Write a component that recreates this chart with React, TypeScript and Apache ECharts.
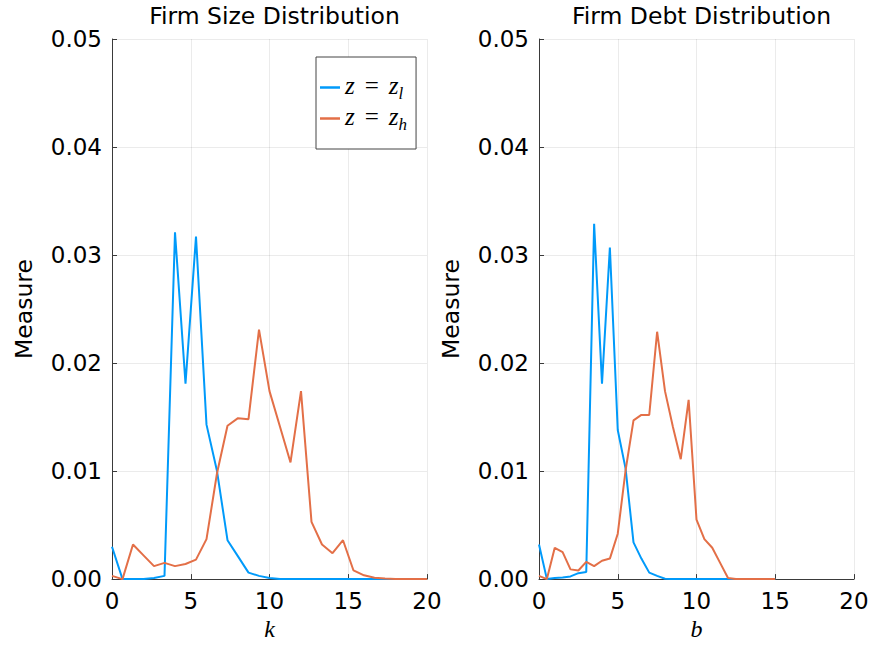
import React, { useEffect, useRef } from "react";
import * as echarts from "echarts";

// Firm Size Distribution (k grid)
const kGrid = [0, 0.667, 1.333, 2, 2.667, 3.333, 4, 4.667, 5.333, 6, 6.667, 7.333, 8, 8.667, 9.333, 10, 10.667, 11.333, 12, 12.667, 13.333, 14, 14.667, 15.333, 16, 16.667, 17.333, 18, 18.667, 19.333, 20];
const sizeLow = [0.003, 0, 0, 0, 0.0001, 0.0003, 0.0321, 0.0181, 0.0317, 0.0143, 0.0100, 0.0036, 0.0021, 0.0006, 0.0003, 0.0001, 0, 0, 0, 0, 0, 0, 0, 0, 0, 0, 0, 0, 0, 0, 0];
const sizeHigh = [0.0003, 0, 0.0032, 0.0022, 0.0012, 0.0015, 0.0012, 0.0014, 0.0018, 0.0037, 0.0098, 0.0142, 0.0149, 0.0148, 0.0231, 0.0174, 0.0141, 0.0108, 0.0174, 0.0053, 0.0032, 0.0024, 0.0036, 0.0008, 0.00035, 0.00013, 0.00005, 0.00002, 0.00001, 0, 0];

// Firm Debt Distribution (b grid)
const bGrid = [0, 0.5, 1, 1.5, 2, 2.5, 3, 3.5, 4, 4.5, 5, 5.5, 6, 6.5, 7, 7.5, 8, 8.5, 9, 9.5, 10, 10.5, 11, 11.5, 12, 12.5, 13, 13.5, 14, 14.5, 15];
const debtLow = [0.0032, 0, 0.0001, 0.00015, 0.00025, 0.00055, 0.00065, 0.0329, 0.0181, 0.0307, 0.0138, 0.0102, 0.0034, 0.0019, 0.0006, 0.0003, 0.00003, 0, 0, 0, 0, 0, 0, 0, 0, 0, 0, 0, 0, 0, 0];
const debtHigh = [0.0003, 0, 0.0029, 0.0025, 0.0009, 0.0008, 0.0016, 0.0012, 0.0017, 0.0019, 0.0042, 0.0101, 0.0147, 0.0152, 0.0152, 0.0229, 0.0174, 0.0141, 0.0111, 0.0166, 0.0055, 0.0037, 0.0029, 0.0015, 0.0001, 0, 0, 0, 0, 0, 0];

const titles = ["Firm Size Distribution", "Firm Debt Distribution"];
const xNames = ["k", "b"];
const seriesNames = ["zl", "zh"];
const xTicks = { min: 0, max: 20, interval: 5 };
const yTicks = { min: 0, max: 0.05, interval: 0.01 };

const BLUE = "#009AFA";
const ORANGE = "#E36F47";
const SANS = "DejaVu Sans";
const SERIF = "Liberation Serif";

const pairs = (xs: number[], ys: number[]) => xs.map((x, i) => [x, ys[i]]);

export default function App() {
  const ref = useRef<HTMLDivElement>(null);
  useEffect(() => {
    document.body.style.margin = "0";
    if (!ref.current) return;
    const chart = echarts.init(ref.current, null, { renderer: "svg" });
    const grids = [
      { left: 112, top: 39, width: 315, height: 544 },
      { left: 539, top: 39, width: 315, height: 544 },
    ];
    const axisColor = "#3a3a3a";
    const xAxes = grids.map((_, i) => ({
      type: "value",
      gridIndex: i,
      min: xTicks.min,
      max: xTicks.max,
      interval: xTicks.interval,
      name: xNames[i],
      nameLocation: "middle",
      nameGap: 34,
      nameTextStyle: { fontFamily: SERIF, fontStyle: "italic", fontSize: 24, color: "#000" },
      axisLine: { show: true, lineStyle: { color: axisColor, width: 1 } },
      axisTick: { show: true, inside: true, length: 5, lineStyle: { color: axisColor } },
      axisLabel: { fontFamily: SANS, fontSize: 23, color: "#000", margin: 10 },
      splitLine: { show: true, lineStyle: { color: "rgba(0,0,0,0.08)", width: 1 } },
    }));
    const yAxes = grids.map((_, i) => ({
      type: "value",
      gridIndex: i,
      min: yTicks.min,
      max: yTicks.max,
      interval: yTicks.interval,
      name: "Measure",
      nameLocation: "middle",
      nameGap: 76,
      nameRotate: 90,
      nameTextStyle: { fontFamily: SANS, fontSize: 23.5, color: "#000" },
      axisLine: { show: true, lineStyle: { color: axisColor, width: 1 } },
      axisTick: { show: true, inside: true, length: 5, lineStyle: { color: axisColor } },
      axisLabel: {
        fontFamily: SANS,
        fontSize: 23,
        color: "#000",
        margin: 10,
        formatter: (v: number) => v.toFixed(2),
      },
      splitLine: { show: true, lineStyle: { color: "rgba(0,0,0,0.08)", width: 1 } },
    }));
    const mk = (name: string, data: number[][], color: string, idx: number) => ({
      type: "line",
      name,
      xAxisIndex: idx,
      yAxisIndex: idx,
      data,
      symbol: "none",
      showSymbol: false,
      color,
      lineStyle: { color, width: 2 },
    });
    chart.setOption({
      animation: false,
      backgroundColor: "#fff",
      title: titles.map((t, i) => ({
        text: t,
        left: grids[i].left + grids[i].width / 2,
        top: -1,
        textAlign: "center",
        textStyle: { fontFamily: SANS, fontSize: 23.5, fontWeight: "normal", color: "#000" },
      })),
      legend: {
        data: seriesNames,
        orient: "vertical",
        left: 316,
        top: 57,
        icon: "rect",
        itemWidth: 20,
        itemHeight: 2.5,
        itemGap: 2,
        padding: [16, 9, 16, 4],
        borderColor: "#444",
        borderWidth: 1,
        backgroundColor: "#fff",
        formatter: (n: string) =>
          n === "zl" ? "{i|z}{e|=}{i|z}{s|l}" : "{i|z}{e|=}{i|z}{s|h}",
        textStyle: {
          rich: {
            i: { fontFamily: SERIF, fontStyle: "italic", fontSize: 25, color: "#000", verticalAlign: "bottom", padding: [0, 0, 4, 0] },
            e: { fontFamily: SERIF, fontSize: 25, color: "#000", verticalAlign: "bottom", padding: [0, 10, 4, 10] },
            s: { fontFamily: SERIF, fontStyle: "italic", fontSize: 17, color: "#000", verticalAlign: "bottom" },
          },
        },
      },
      grid: grids,
      xAxis: xAxes,
      yAxis: yAxes,
      series: [
        mk(seriesNames[0], pairs(kGrid, sizeLow), BLUE, 0),
        mk(seriesNames[1], pairs(kGrid, sizeHigh), ORANGE, 0),
        mk(seriesNames[0], pairs(bGrid, debtLow), BLUE, 1),
        mk(seriesNames[1], pairs(bGrid, debtHigh), ORANGE, 1),
      ],
    });
    return () => chart.dispose();
  }, []);
  return <div ref={ref} style={{ width: 873, height: 646 }} />;
}
